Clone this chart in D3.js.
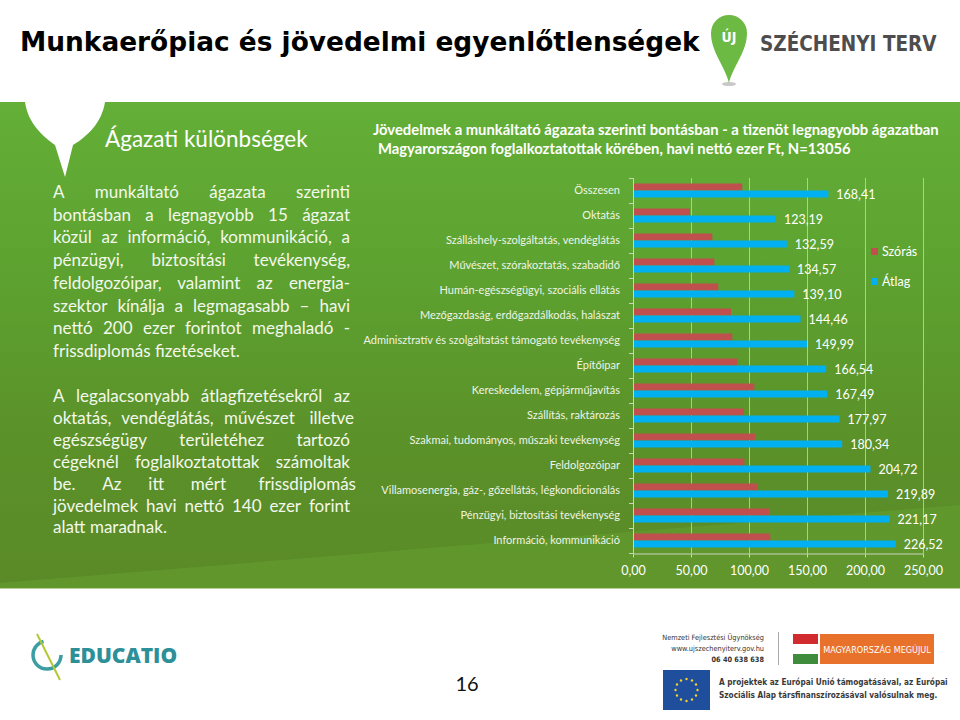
<!DOCTYPE html>
<html lang="hu">
<head>
<meta charset="utf-8">
<title>Munkaerőpiac és jövedelmi egyenlőtlenségek</title>
<script src="https://d3js.org/d3.v7.min.js"></script>
<style>
  body { margin: 0; background: #fff; }
  svg { display: block; font-family: Lato, "Open Sans", sans-serif; }
  .para text { fill: #f3f8ec; font-size: 17px; }
  .cat text { fill: #eef4e6; font-size: 11px; }
  .xaxis text { fill: #fff; font-size: 12.5px; }
  .xaxis path, .xaxis line { stroke: #c9d3bf; }
  .grid line { stroke: #d0d6c8; stroke-opacity: 0.75; }
  .vals text { fill: #fff; font-size: 12.5px; }
  .legend text { fill: #fff; font-size: 12.5px; }
</style>
</head>
<body>
<svg id="slide" width="960" height="720"></svg>
<script>
const categories = [
  'Összesen',
  'Oktatás',
  'Szálláshely-szolgáltatás, vendéglátás',
  'Művészet, szórakoztatás, szabadidő',
  'Humán-egészségügyi, szociális ellátás',
  'Mezőgazdaság, erdőgazdálkodás, halászat',
  'Adminisztratív és szolgáltatást támogató tevékenység',
  'Építőipar',
  'Kereskedelem, gépjárműjavítás',
  'Szállítás, raktározás',
  'Szakmai, tudományos, műszaki tevékenység',
  'Feldolgozóipar',
  'Villamosenergia, gáz-, gőzellátás, légkondicionálás',
  'Pénzügyi, biztosítási tevékenység',
  'Információ, kommunikáció'
]
const atlag = [168.41, 123.19, 132.59, 134.57, 139.10, 144.46, 149.99, 166.54, 167.49, 177.97, 180.34, 204.72, 219.89, 221.17, 226.52]
const szoras = [94.2, 49.1, 68.4, 70.1, 73.5, 84.5, 85.6, 89.9, 104.6, 95.7, 105.2, 96.0, 106.9, 117.2, 118.4]
const series = ['Szórás', 'Átlag']
const seriesColors = ['#c0504d', '#00b0f0']
const xTicks = [0, 50, 100, 150, 200, 250]

const para1 = [
  'A munkáltató ágazata szerinti',
  'bontásban a legnagyobb 15 ágazat',
  'közül az információ, kommunikáció, a',
  'pénzügyi, biztosítási tevékenység,',
  'feldolgozóipar, valamint az energia-',
  'szektor kínálja a legmagasabb – havi',
  'nettó 200 ezer forintot meghaladó -',
  'frissdiplomás fizetéseket.'
]
const para2 = [
  'A legalacsonyabb átlagfizetésekről az',
  'oktatás, vendéglátás, művészet illetve',
  'egészségügy területéhez tartozó',
  'cégeknél foglalkoztatottak számoltak',
  'be. Az itt mért frissdiplomás',
  'jövedelmek havi nettó 140 ezer forint',
  'alatt maradnak.'
]

const svg = d3.select('#slide')
const defs = svg.append('defs')

// green band background
const grad = defs.append('linearGradient').attr('id', 'bg').attr('x1', 0).attr('y1', 0).attr('x2', 0).attr('y2', 1)
grad.append('stop').attr('offset', '0%').attr('stop-color', '#63af37')
grad.append('stop').attr('offset', '35%').attr('stop-color', '#5da230')
grad.append('stop').attr('offset', '70%').attr('stop-color', '#5b9129')
grad.append('stop').attr('offset', '100%').attr('stop-color', '#5a8a27')

svg.append('rect').attr('x', 0).attr('y', 102).attr('width', 960).attr('height', 486).attr('fill', 'url(#bg)')
svg.append('path').attr('d', 'M0,583 L960,505 L960,588 L0,588 Z').attr('fill', '#66a131').attr('opacity', 0.55)
svg.append('line').attr('x1', 0).attr('x2', 960).attr('y1', 588.5).attr('y2', 588.5).attr('stroke', '#b9cf9a')

// white pin cut into the band
svg.append('path')
  .attr('d', 'M25,102 C28,124 44,137 55,145 L65,177 L73,145 C88,136 102,122 105,102 Z')
  .attr('fill', '#fff')

// title
svg.append('text').attr('x', 20).attr('y', 51)
  .style('font-family', '"DejaVu Sans", sans-serif').style('font-weight', 'bold').style('font-size', '26.4px')
  .attr('fill', '#000').text('Munkaerőpiac és jövedelmi egyenlőtlenségek')

// Új Széchenyi Terv logo
svg.append('ellipse').attr('cx', 729).attr('cy', 84).attr('rx', 7).attr('ry', 2).attr('fill', '#c8c8c8')
svg.append('path')
  .attr('d', 'M729,83 C725,66 711,52 711,33 A18,18 0 1 1 747,33 C747,52 733,66 729,83 Z')
  .attr('fill', '#6cb944')
svg.append('text').attr('x', 729).attr('y', 42).attr('text-anchor', 'middle')
  .style('font-family', '"DejaVu Sans Condensed", sans-serif').style('font-weight', 'bold').style('font-size', '14px')
  .attr('fill', '#fff').text('ÚJ')
svg.append('text').attr('x', 760).attr('y', 51)
  .style('font-family', '"DejaVu Sans Condensed", sans-serif').style('font-weight', 'bold').style('font-size', '20.5px')
  .attr('fill', '#4d4d4d').text('SZÉCHENYI TERV')

// band headers
svg.append('text').attr('x', 105).attr('y', 147)
  .style('font-size', '22.5px').attr('fill', '#fff').text('Ágazati különbségek')
svg.append('text').attr('x', 373).attr('y', 135)
  .style('font-size', '14.8px').style('font-weight', 'bold').attr('fill', '#fff')
  .text('Jövedelmek a munkáltató ágazata szerinti bontásban - a tizenöt legnagyobb ágazatban')
svg.append('text').attr('x', 378).attr('y', 154)
  .style('font-size', '14.8px').style('font-weight', 'bold').attr('fill', '#fff')
  .text('Magyarországon foglalkoztatottak körében, havi nettó ezer Ft, N=13056')

// justified paragraphs
function paragraph(lines, x0, width, y0, lh) {
  const g = svg.append('g').attr('class', 'para')
  lines.forEach((line, i) => {
    const words = line.split(' ')
    const t = g.append('text').attr('y', y0 + i * lh)
    const spans = words.map(w => t.append('tspan').text(w))
    const widths = spans.map(s => s.node().getComputedTextLength())
    const last = i === lines.length - 1
    const gap = last ? 4.5 : Math.max(2, (width - d3.sum(widths)) / (words.length - 1))
    let cx = x0
    spans.forEach((s, j) => { s.attr('x', cx); cx += widths[j] + gap })
  })
}
paragraph(para1, 53, 297, 198, 22.7)
paragraph(para2, 53, 297, 402, 21.9)

// chart
const x = d3.scaleLinear().domain([0, 250]).range([633, 923])
const y = d3.scaleBand().domain(categories).range([178, 553]).paddingInner(0.44).paddingOuter(0.22)
const ySub = d3.scaleBand().domain(series).range([0, y.bandwidth()])
const fmt = v => d3.format('.2f')(v).replace('.', ',')

svg.append('g').attr('class', 'grid')
  .selectAll('line').data(xTicks.slice(1)).join('line')
  .attr('x1', d => x(d) + 0.5).attr('x2', d => x(d) + 0.5)
  .attr('y1', 178).attr('y2', 553)

svg.append('g').attr('class', 'xaxis')
  .attr('transform', 'translate(0,553.5)')
  .call(d3.axisBottom(x).tickValues(xTicks).tickFormat(fmt).tickSizeInner(4).tickSizeOuter(0).tickPadding(9))
  .selectAll('text').style('font-family', 'Lato, sans-serif')

// left axis line and band ticks
const yLeft = svg.append('g').attr('class', 'xaxis')
yLeft.append('line').attr('x1', 633.5).attr('x2', 633.5).attr('y1', 178).attr('y2', 553.5)
yLeft.selectAll('line.tk').data(d3.range(categories.length + 1)).join('line').attr('class', 'tk')
  .attr('x1', 629).attr('x2', 633.5)
  .attr('y1', i => 178.5 + i * y.step()).attr('y2', i => 178.5 + i * y.step())

svg.append('g').attr('class', 'cat')
  .selectAll('text').data(categories).join('text')
  .attr('x', 620).attr('y', d => y(d) + y.bandwidth() / 2)
  .attr('dy', '0.35em').attr('text-anchor', 'end').text(d => d)

const rows = categories.map((c, i) => ({ cat: c, values: [szoras[i], atlag[i]] }))
const groups = svg.append('g').selectAll('g').data(rows).join('g')
  .attr('transform', d => `translate(0,${y(d.cat)})`)
groups.selectAll('rect').data(d => d.values.map((v, k) => ({ s: series[k], v, k }))).join('rect')
  .attr('x', x(0) + 1).attr('y', d => ySub(d.s))
  .attr('width', d => x(d.v) - x(0) - 1).attr('height', ySub.bandwidth())
  .attr('fill', d => seriesColors[d.k])

svg.append('g').attr('class', 'vals')
  .selectAll('text').data(rows).join('text')
  .attr('x', d => x(d.values[1]) + 8)
  .attr('y', d => y(d.cat) + ySub('Átlag') + ySub.bandwidth() / 2)
  .attr('dy', '0.38em').text(d => fmt(d.values[1]))

const legend = svg.append('g').attr('class', 'legend')
  .selectAll('g').data(series).join('g')
  .attr('transform', (d, i) => `translate(871,${248 + i * 30})`)
legend.append('rect').attr('width', 7).attr('height', 7).attr('fill', (d, i) => seriesColors[i])
legend.append('text').attr('x', 11).attr('y', 4).attr('dy', '0.35em').text(d => d)

// footer
svg.append('text').attr('x', 467).attr('y', 691).attr('text-anchor', 'middle')
  .style('font-size', '20px').attr('fill', '#111').text('16')

// Educatio logo
svg.append('circle').attr('cx', 47).attr('cy', 655).attr('r', 14)
  .attr('fill', 'none').attr('stroke', '#3c9ea3').attr('stroke-width', 3.5)
  .attr('stroke-dasharray', '62 26')
svg.append('line').attr('x1', 37).attr('y1', 634).attr('x2', 60).attr('y2', 680)
  .attr('stroke', '#b5c733').attr('stroke-width', 2)
svg.append('text').attr('x', 69).attr('y', 663)
  .style('font-family', '"Open Sans", sans-serif').style('font-weight', 800).style('font-size', '21px')
  .attr('fill', '#2d8f98').text('EDUCATIO')

// agency block
const agency = ['Nemzeti Fejlesztési Ügynökség', 'www.ujszechenyiterv.gov.hu', '06 40 638 638']
svg.append('g').selectAll('text').data(agency).join('text')
  .attr('x', 764).attr('y', (d, i) => 640 + i * 11).attr('text-anchor', 'end')
  .style('font-family', '"DejaVu Sans Condensed", sans-serif').style('font-size', '7.3px')
  .style('font-weight', (d, i) => i === 2 ? 'bold' : 'normal')
  .attr('fill', '#333').text(d => d)
svg.append('line').attr('x1', 778.5).attr('x2', 778.5).attr('y1', 632).attr('y2', 665).attr('stroke', '#aaa')
const flag = ['#d12a2f', '#ffffff', '#3f8c3d']
svg.append('g').selectAll('rect').data(flag).join('rect')
  .attr('x', 793).attr('y', (d, i) => 634 + i * 10).attr('width', 25).attr('height', 10).attr('fill', d => d)
svg.append('rect').attr('x', 820).attr('y', 634).attr('width', 114).attr('height', 30).attr('fill', '#e8712b')
svg.append('text').attr('x', 877).attr('y', 653).attr('text-anchor', 'middle')
  .style('font-family', '"DejaVu Sans Condensed", sans-serif').style('font-size', '9px')
  .attr('fill', '#fff').text('MAGYARORSZÁG MEGÚJUL')

// EU flag
svg.append('rect').attr('x', 663).attr('y', 670).attr('width', 47).attr('height', 40).attr('fill', '#1f4e9c')
svg.append('g').selectAll('circle').data(d3.range(12)).join('circle')
  .attr('cx', i => 686.5 + 11 * Math.cos(i * Math.PI / 6))
  .attr('cy', i => 690 + 11 * Math.sin(i * Math.PI / 6))
  .attr('r', 1.2).attr('fill', '#f6d22a')
const euText = ['A projektek az Európai Unió támogatásával, az Európai', 'Szociális Alap társfinanszírozásával valósulnak meg.']
svg.append('g').selectAll('text').data(euText).join('text')
  .attr('x', 719).attr('y', (d, i) => 685 + i * 13)
  .style('font-family', '"DejaVu Sans Condensed", sans-serif').style('font-size', '8.2px').style('font-weight', 'bold')
  .attr('fill', '#3a3a3a').text(d => d)
</script>
</body>
</html>
